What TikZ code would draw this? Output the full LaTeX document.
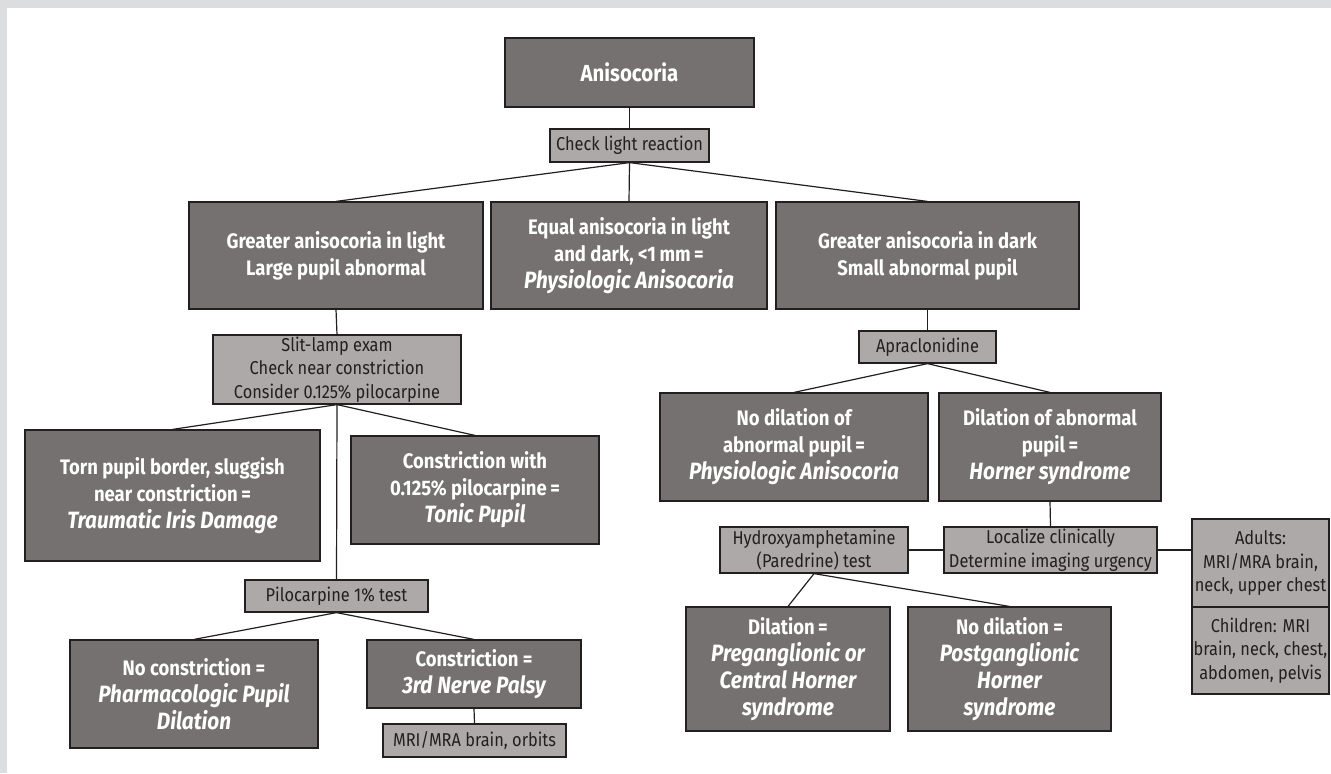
\documentclass[tikz,border=0pt]{standalone}
\usepackage{fontspec}
\setmainfont{Fira Sans}[FakeStretch=0.88]
\definecolor{framegray}{RGB}{220,221,223}
\definecolor{boxdark}{RGB}{117,113,112}
\definecolor{boxlight}{RGB}{173,169,168}
\definecolor{inkdark}{RGB}{35,31,32}
\tikzset{
  darkbox/.style={draw=inkdark, line width=0.6pt, fill=boxdark, text=white, align=center, inner sep=0pt, font=\fontsize{10.5}{13.5}\selectfont\bfseries},
  lightbox/.style={draw=inkdark, line width=0.6pt, fill=boxlight, text=inkdark, align=center, inner sep=0pt, font=\fontsize{9.3}{11.8}\selectfont},
  link/.style={draw=inkdark, line width=0.6pt}
}
\newcommand{\verdict}[1]{{\fontsize{11.8}{13.5}\selectfont\itshape #1}}

\begin{document}
\begin{tikzpicture}[x=0.5pt, y=-0.5pt]
        \useasboundingbox (0,0) rectangle (1331,773);
        \fill[framegray] (0,0) rectangle (1331,773);
        \fill[white] (7,8) rectangle (1331,773);

        % top of the tree
        \node[darkbox, minimum width=124.5pt, minimum height=34.5pt, font=\fontsize{11.6}{14}\selectfont\bfseries] (aniso) at (629.5,72.5) {Anisocoria};
        \node[lightbox, minimum width=79.5pt, minimum height=16.5pt] (lightreact) at (629.5,145.5) {Check light reaction};
        \node[darkbox, minimum width=147pt, minimum height=53.5pt] (glight) at (336,255.5) {Greater anisocoria in light\\Large pupil abnormal};
        \node[darkbox, minimum width=138pt, minimum height=53.5pt] (equal) at (629,255.5) {Equal anisocoria in light\\and dark, <1\,mm\,=\\\verdict{Physiologic Anisocoria}};
        \node[darkbox, minimum width=151.5pt, minimum height=53.5pt] (gdark) at (927.5,255.5) {Greater anisocoria in dark\\Small abnormal pupil};

        % large pupil branch
        \node[lightbox, minimum width=124pt, minimum height=34.5pt] (slitlamp) at (337,369.5) {Slit-lamp exam\\Check near constriction\\Consider 0.125\% pilocarpine};
        \node[darkbox, minimum width=147.5pt, minimum height=65.5pt] (torn) at (172.5,495.5) {Torn pupil border, sluggish\\near constriction\,=\\\verdict{Traumatic Iris Damage}};
        \node[darkbox, minimum width=124pt, minimum height=54pt] (tonic) at (475,490) {Constriction with\\0.125\% pilocarpine\,=\\\verdict{Tonic Pupil}};
        \node[lightbox, minimum width=91.5pt, minimum height=16pt] (pilotest) at (336.5,596) {Pilocarpine 1\% test};
        \node[darkbox, minimum width=124pt, minimum height=54pt] (noconstr) at (194,694) {No constriction =\\\verdict{Pharmacologic Pupil}\\\verdict{Dilation}};
        \node[darkbox, minimum width=107pt, minimum height=34pt] (constr) at (474,674) {Constriction =\\\verdict{3rd Nerve Palsy}};
        \node[lightbox, minimum width=91.5pt, minimum height=16.5pt] (mriorbit) at (474.5,740.5) {MRI/MRA brain, orbits};

        % small pupil branch
        \node[lightbox, minimum width=68.5pt, minimum height=16pt] (apraclo) at (927.5,347) {Apraclonidine};
        \node[darkbox, minimum width=134pt, minimum height=54pt] (nodilat) at (794,447) {No dilation of\\abnormal pupil\,=\\\verdict{Physiologic Anisocoria}};
        \node[darkbox, minimum width=111pt, minimum height=54pt] (horner) at (1050,447) {Dilation of abnormal\\pupil\,=\\\verdict{Horner syndrome}};
        \node[lightbox, minimum width=94pt, minimum height=23pt] (hydroxy) at (814,550) {Hydroxyamphetamine\\(Paredrine) test};
        \node[lightbox, minimum width=106.5pt, minimum height=23pt] (localize) at (1050.5,550) {Localize clinically\\Determine imaging urgency};
        \node[lightbox, minimum width=68.5pt, minimum height=44pt] (adults) at (1260.5,563) {Adults:\\MRI/MRA brain,\\neck, upper chest};
        \node[lightbox, minimum width=68.5pt, minimum height=43.5pt] (children) at (1260.5,650.5) {Children: MRI\\brain, neck, chest,\\abdomen, pelvis};
        \node[darkbox, minimum width=102pt, minimum height=62pt] (pregang) at (788,669) {Dilation\,=\\\verdict{Preganglionic or}\\\verdict{Central Horner}\\\verdict{syndrome}};
        \node[darkbox, minimum width=101.5pt, minimum height=62pt] (postgang) at (1009.5,669) {No dilation =\\\verdict{Postganglionic}\\\verdict{Horner}\\\verdict{syndrome}};

        % connectors
        \draw[link] (aniso.south) -- (lightreact.north);
        \draw[link] (lightreact.south) -- (glight.north);
        \draw[link] (lightreact.south) -- (equal.north);
        \draw[link] (lightreact.south) -- (gdark.north);
        \draw[link] (glight.south) -- (slitlamp.north);
        \draw[link] (slitlamp.south) -- (torn.north);
        \draw[link] (slitlamp.south) -- (tonic.north);
        \draw[link] (slitlamp.south) -- (pilotest.north);
        \draw[link] (pilotest.south) -- (noconstr.north);
        \draw[link] (pilotest.south) -- (constr.north);
        \draw[link] (constr.south) -- (mriorbit.north);
        \draw[link] (gdark.south) -- (apraclo.north);
        \draw[link] (apraclo.south) -- (nodilat.north);
        \draw[link] (apraclo.south) -- (horner.north);
        \draw[link] (horner.south) -- (localize.north);
        \draw[link] (localize.west) -- (hydroxy.east);
        \draw[link] (localize.east) -- (localize.east -| adults.west);
        \draw[link] (hydroxy.south) -- (pregang.north);
        \draw[link] (hydroxy.south) -- (postgang.north);
\end{tikzpicture}
\end{document}
